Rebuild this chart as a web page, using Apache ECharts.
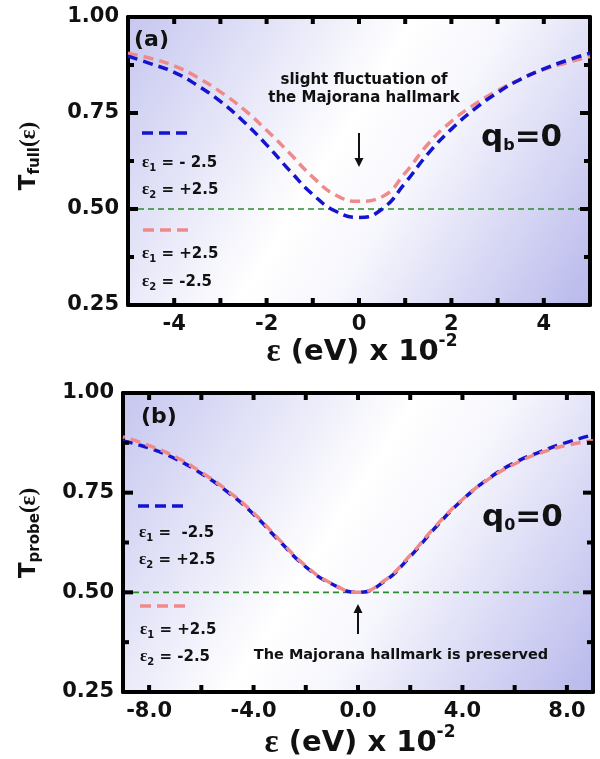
<!DOCTYPE html>
<html>
<head>
<meta charset="utf-8">
<script src="https://cdn.jsdelivr.net/npm/echarts@6.0.0/dist/echarts.min.js"></script>
<style>
  html, body { margin: 0; padding: 0; background: #fff; }
  #main { width: 600px; height: 759px; }
</style>
</head>
<body>
<div id="main"></div>
<script>
// panel (a): q_b = 0, T_full
const epsA = [-5, -4.5, -4, -3.5, -3, -2.5, -2, -1.5, -1, -0.5, 0, 0.5, 1, 1.5, 2, 2.5, 3, 3.5, 4, 4.5, 5];
const blueA = [0.898, 0.878, 0.856, 0.822, 0.78, 0.728, 0.667, 0.6, 0.538, 0.494, 0.478, 0.5, 0.568, 0.645, 0.708, 0.76, 0.803, 0.838, 0.865, 0.887, 0.906];
const pinkA = [0.906, 0.892, 0.873, 0.843, 0.805, 0.76, 0.705, 0.645, 0.583, 0.536, 0.52, 0.532, 0.594, 0.67, 0.728, 0.772, 0.808, 0.838, 0.863, 0.881, 0.897];

// panel (b): q_0 = 0, T_probe
const epsB = [-9, -8, -7, -6, -5, -4, -3, -2, -1, 0, 1, 2, 3, 4, 5, 6, 7, 8, 9];
const blueB = [0.88, 0.862, 0.835, 0.798, 0.752, 0.696, 0.628, 0.564, 0.521, 0.5, 0.527, 0.59, 0.665, 0.732, 0.785, 0.825, 0.853, 0.876, 0.895];
const pinkB = [0.89, 0.868, 0.84, 0.801, 0.755, 0.699, 0.631, 0.566, 0.522, 0.5, 0.529, 0.593, 0.668, 0.733, 0.784, 0.822, 0.85, 0.869, 0.88];

const threshold = 0.5;

// ticks / labels
const xTicksA = [-4, -3, -2, -1, 0, 1, 2, 3, 4];
const xLabelsA = [-4, -2, 0, 2, 4];
const xTicksB = [-8, -6, -4, -2, 0, 2, 4, 6, 8];
const xLabelsB = [-8, -4, 0, 4, 8];
const yTicks = [0.25, 0.375, 0.5, 0.625, 0.75, 0.875, 1];

const BLUE = '#1414cf';
const PINK = '#f08a8a';
const GREEN = '#2b8c2b';
const FONT = 'DejaVu Sans';
const SERIF = 'Liberation Serif';

const chart = echarts.init(document.getElementById('main'));

function bg () {
  return new echarts.graphic.LinearGradient(0, 0, 1, 1, [
    { offset: 0, color: '#c6c6f0' },
    { offset: 0.45, color: '#ffffff' },
    { offset: 0.6, color: '#f6f6fd' },
    { offset: 1, color: '#b8b8ec' }
  ]);
}

function zip (xs, ys) {
  return xs.map((x, i) => [x, ys[i]]);
}

function frameLine () {
  return { show: true, onZero: false, lineStyle: { color: '#000', width: 4 } };
}
function labelStyle (extra) {
  return Object.assign({ color: '#111', fontFamily: FONT, fontWeight: 'bold', fontSize: 21, margin: 9 }, extra);
}

function xAxis (grid, min, max, position, label) {
  return {
    gridIndex: grid, type: 'value', min: min, max: max, position: position,
    axisLine: frameLine(), splitLine: { show: false }, axisTick: { show: false },
    axisLabel: label
  };
}

function yAxis (grid, position, label) {
  return {
    gridIndex: grid, type: 'value', min: 0.25, max: 1, interval: 0.25, position: position,
    axisLine: frameLine(), splitLine: { show: false }, axisTick: { show: false },
    minorTick: { show: false }, axisLabel: label
  };
}

function curve (xi, yi, data, color, offset) {
  return {
    type: 'line', xAxisIndex: xi, yAxisIndex: yi, data: data,
    smooth: 0.5, showSymbol: false, silent: true,
    lineStyle: { color: color, width: 3.5, type: [10, 6], dashOffset: offset }
  };
}

function hline (xi, yi, min, max) {
  return {
    type: 'line', xAxisIndex: xi, yAxisIndex: yi,
    data: [[min, threshold], [max, threshold]],
    showSymbol: false, silent: true,
    lineStyle: { color: GREEN, width: 1.6, type: [6, 4] }
  };
}

// inward tick marks on all four sides, placed through the axes' own scales
function tickLine (x1, y1, x2, y2) {
  return { type: 'line', shape: { x1: x1, y1: y1, x2: x2, y2: y2 }, style: { stroke: '#000', lineWidth: 4 } };
}
function xTickSeries (xi, yi, ticks) {
  return {
    type: 'custom', xAxisIndex: xi, yAxisIndex: yi, silent: true, z: 5,
    data: ticks.map(v => [v, 0.5]),
    renderItem: function (params, api) {
      const cs = params.coordSys;
      const x = api.coord([api.value(0), api.value(1)])[0];
      const bottom = cs.y + cs.height;
      return { type: 'group', children: [
        tickLine(x, bottom, x, bottom - 7),
        tickLine(x, cs.y, x, cs.y + 7)
      ] };
    }
  };
}
function yTickSeries (xi, yi, xRef) {
  return {
    type: 'custom', xAxisIndex: xi, yAxisIndex: yi, silent: true, z: 5,
    data: yTicks.map((v, i) => [xRef, v, i % 2 === 0 ? 10 : 6]),
    renderItem: function (params, api) {
      const cs = params.coordSys;
      const y = api.coord([api.value(0), api.value(1)])[1];
      const len = api.value(2);
      const right = cs.x + cs.width;
      return { type: 'group', children: [
        tickLine(cs.x, y, cs.x + len, y),
        tickLine(right, y, right - len, y)
      ] };
    }
  };
}

// legend / annotation text helpers
const richSmall = {
  e: { fontFamily: SERIF, fontWeight: 'bold', fontSize: 17, fill: '#111' },
  s: { fontFamily: FONT, fontWeight: 'bold', fontSize: 10, padding: [10, 0, 0, 0], fill: '#111' },
  t: { fontFamily: FONT, fontWeight: 'bold', fontSize: 15, fill: '#111' }
};

function txt (x, y, text, rich, align, rotation) {
  return {
    type: 'text', x: x, y: y, rotation: rotation || 0, silent: true, z: 100,
    style: { text: text, rich: rich, align: align || 'left', verticalAlign: 'middle', fill: '#111' }
  };
}

function dash (x1, x2, y, color) {
  return {
    type: 'line', silent: true, z: 100,
    shape: { x1: x1, y1: y, x2: x2, y2: y },
    style: { stroke: color, lineWidth: 3.5, lineDash: [11, 6] }
  };
}

function arrow (x, yTail, yHead) {
  const dir = yHead > yTail ? 1 : -1;
  return [
    { type: 'line', silent: true, z: 100, shape: { x1: x, y1: yTail, x2: x, y2: yHead - dir * 6 }, style: { stroke: '#111', lineWidth: 2 } },
    { type: 'polygon', silent: true, z: 100, shape: { points: [[x - 4.5, yHead - dir * 9], [x + 4.5, yHead - dir * 9], [x, yHead]] }, style: { fill: '#111' } }
  ];
}

const richBig = {
  t: { fontFamily: FONT, fontWeight: 'bold', fontSize: 23, fill: '#111' },
  s: { fontFamily: FONT, fontWeight: 'bold', fontSize: 15, padding: [13, 0, 0, 0], fill: '#111' },
  e: { fontFamily: SERIF, fontWeight: 'bold', fontSize: 23, fill: '#111' }
};
const richX = {
  e: { fontFamily: SERIF, fontWeight: 'bold', fontSize: 33, fill: '#111' },
  t: { fontFamily: FONT, fontWeight: 'bold', fontSize: 29, fill: '#111' },
  sup: { fontFamily: FONT, fontWeight: 'bold', fontSize: 17, padding: [0, 0, 20, 0], fill: '#111' }
};
const richQ = {
  q: { fontFamily: FONT, fontWeight: 'bold', fontSize: 31, fill: '#111' },
  s: { fontFamily: FONT, fontWeight: 'bold', fontSize: 16, padding: [16, 0, 0, 0], fill: '#111' }
};
const richAnno = {
  t: { fontFamily: FONT, fontWeight: 'bold', fontSize: 15, fill: '#111' }
};
const richAnnoB = {
  t: { fontFamily: FONT, fontWeight: 'bold', fontSize: 14.5, fill: '#111' }
};
const richPanel = {
  t: { fontFamily: FONT, fontWeight: 'bold', fontSize: 22, fill: '#111' }
};

const graphics = [
  // panel (a)
  txt(134, 40, '{t|(a)}', richPanel),
  txt(364, 80, '{t|slight fluctuation of}', richAnno, 'center'),
  txt(364, 98, '{t|the Majorana hallmark}', richAnno, 'center'),
  ...arrow(359, 133, 167),
  txt(481, 138, '{q|q}{s|b}{q|=0}', richQ),
  dash(142, 188, 133, BLUE),
  txt(142, 163, '{e|ε}{s|1}{t| = - 2.5}', richSmall),
  txt(142, 190, '{e|ε}{s|2}{t| = +2.5}', richSmall),
  dash(143, 190, 230, PINK),
  txt(142, 254, '{e|ε}{s|1}{t| = +2.5}', richSmall),
  txt(142, 282, '{e|ε}{s|2}{t| = -2.5}', richSmall),
  txt(29, 156, '{t|T}{s|full}{e|(ε)}', richBig, 'center', Math.PI / 2),
  txt(362, 352, '{e|ε}{t| (eV) x 10}{sup|-2}', richX, 'center'),
  // panel (b)
  txt(141, 417, '{t|(b)}', richPanel),
  txt(401, 655, '{t|The Majorana hallmark is preserved}', richAnnoB, 'center'),
  ...arrow(358, 634, 604),
  txt(482, 518, '{q|q}{s|0}{q|=0}', richQ),
  dash(138, 184, 506, BLUE),
  txt(139, 533, '{e|ε}{s|1}{t| =  -2.5}', richSmall),
  txt(139, 560, '{e|ε}{s|2}{t| = +2.5}', richSmall),
  dash(140, 186, 606, PINK),
  txt(140, 630, '{e|ε}{s|1}{t| = +2.5}', richSmall),
  txt(140, 657, '{e|ε}{s|2}{t| = -2.5}', richSmall),
  txt(29, 533, '{t|T}{s|probe}{e|(ε)}', richBig, 'center', Math.PI / 2),
  txt(360, 743, '{e|ε}{t| (eV) x 10}{sup|-2}', richX, 'center')
];

const option = {
  animation: false,
  backgroundColor: '#fff',
  grid: [
    { left: 128, top: 17, width: 462, height: 288, show: true, backgroundColor: bg(), borderWidth: 0 },
    { left: 123, top: 393, width: 470, height: 299, show: true, backgroundColor: bg(), borderWidth: 0 }
  ],
  xAxis: [
    xAxis(0, -5, 5, 'bottom', labelStyle({ customValues: xLabelsA, formatter: v => v.toFixed(0) })),
    xAxis(0, -5, 5, 'top', { show: false }),
    xAxis(1, -9, 9, 'bottom', labelStyle({ customValues: xLabelsB, formatter: v => v.toFixed(1) })),
    xAxis(1, -9, 9, 'top', { show: false })
  ],
  yAxis: [
    yAxis(0, 'left', labelStyle({ formatter: v => v.toFixed(2) })),
    yAxis(0, 'right', { show: false }),
    yAxis(1, 'left', labelStyle({ formatter: v => v.toFixed(2) })),
    yAxis(1, 'right', { show: false })
  ],
  series: [
    hline(0, 0, -5, 5),
    curve(0, 0, zip(epsA, pinkA), PINK, 0),
    curve(0, 0, zip(epsA, blueA), BLUE, 0),
    hline(2, 2, -9, 9),
    curve(2, 2, zip(epsB, blueB), BLUE, 0),
    curve(2, 2, zip(epsB, pinkB), PINK, 8),
    xTickSeries(0, 0, xTicksA),
    yTickSeries(0, 0, 0),
    xTickSeries(2, 2, xTicksB),
    yTickSeries(2, 2, 0)
  ],
  graphic: graphics
};

chart.setOption(option);
</script>
</body>
</html>
